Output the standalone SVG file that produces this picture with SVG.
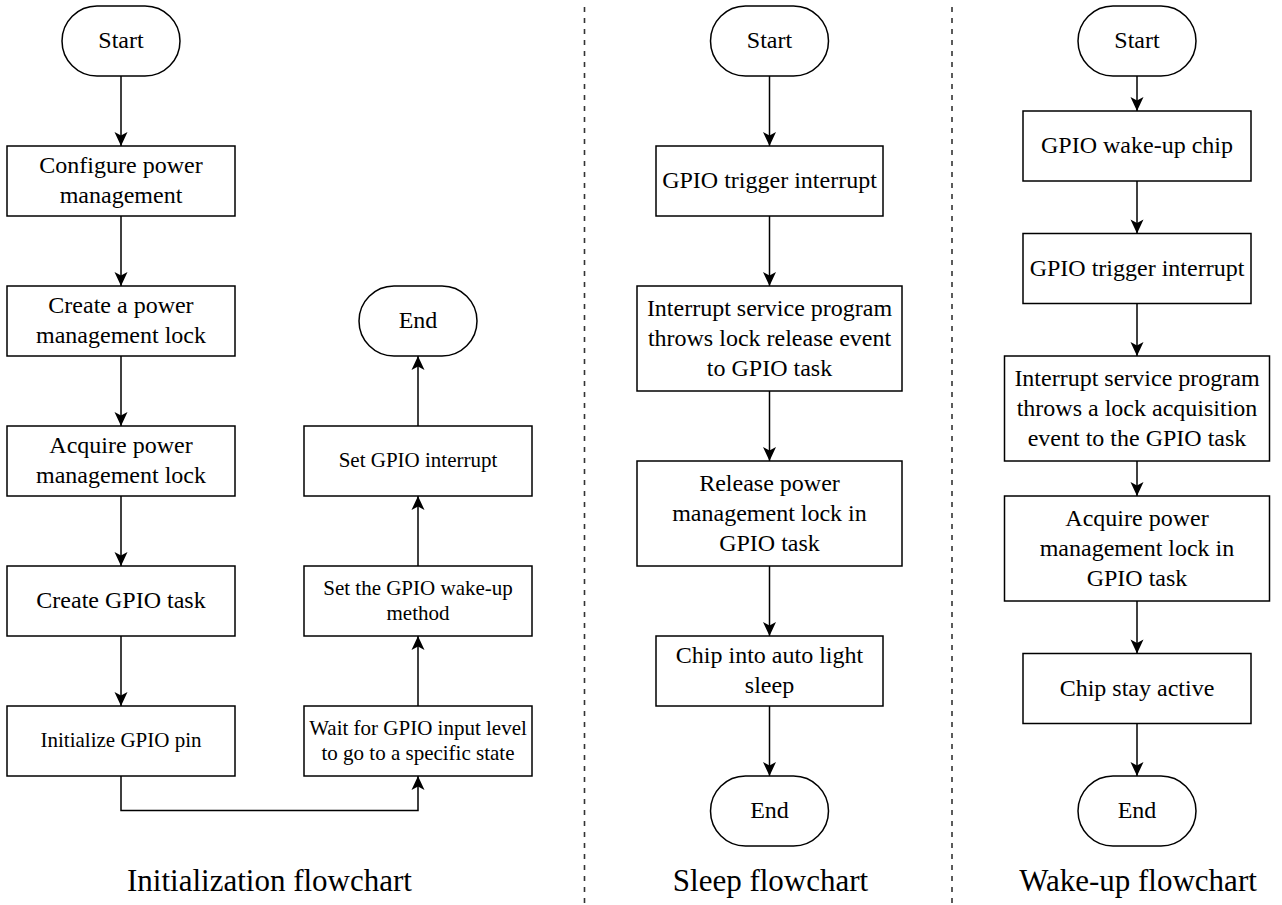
<svg xmlns="http://www.w3.org/2000/svg" width="1282" height="905" viewBox="0 0 1282 905">
<defs>
<style>
.box{fill:#fff;stroke:#000;stroke-width:1.5}
.t{font-family:"Liberation Serif","Times New Roman",serif;font-size:24px;fill:#000;text-anchor:middle}
.s{font-size:21px}
.title{font-family:"Liberation Serif","Times New Roman",serif;font-size:31px;fill:#000;text-anchor:middle}
.c{fill:none;stroke:#000;stroke-width:1.5}
.dash{stroke:#333;stroke-width:1.6;stroke-dasharray:5 6}
</style>
<marker id="arr" markerUnits="userSpaceOnUse" viewBox="0 0 16 14" refX="15" refY="7" markerWidth="16" markerHeight="14" orient="auto">
<path d="M15,7 L1,0.5 L4.5,7 L1,13.5 Z" fill="#000"/>
</marker>
</defs>
<rect width="1282" height="905" fill="#fff"/>
<g id="separators">
<line class="dash" x1="584.5" y1="7" x2="584.5" y2="905"/>
<line class="dash" x1="952" y1="7" x2="952" y2="905"/>
</g>
<g id="connectors">
<line class="c" x1="121" y1="76" x2="121" y2="146" marker-end="url(#arr)"/>
<line class="c" x1="121" y1="216" x2="121" y2="286" marker-end="url(#arr)"/>
<line class="c" x1="121" y1="356" x2="121" y2="426" marker-end="url(#arr)"/>
<line class="c" x1="121" y1="496" x2="121" y2="566" marker-end="url(#arr)"/>
<line class="c" x1="121" y1="636" x2="121" y2="706" marker-end="url(#arr)"/>
<polyline class="c" points="121,776 121,810.5 418,810.5 418,776" marker-end="url(#arr)"/>
<line class="c" x1="418" y1="706" x2="418" y2="636" marker-end="url(#arr)"/>
<line class="c" x1="418" y1="566" x2="418" y2="496" marker-end="url(#arr)"/>
<line class="c" x1="418" y1="426" x2="418" y2="356" marker-end="url(#arr)"/>
<line class="c" x1="769.5" y1="76" x2="769.5" y2="146" marker-end="url(#arr)"/>
<line class="c" x1="769.5" y1="216" x2="769.5" y2="286" marker-end="url(#arr)"/>
<line class="c" x1="769.5" y1="391" x2="769.5" y2="461" marker-end="url(#arr)"/>
<line class="c" x1="769.5" y1="566" x2="769.5" y2="636" marker-end="url(#arr)"/>
<line class="c" x1="769.5" y1="706" x2="769.5" y2="776" marker-end="url(#arr)"/>
<line class="c" x1="1137" y1="76" x2="1137" y2="111" marker-end="url(#arr)"/>
<line class="c" x1="1137" y1="181" x2="1137" y2="233.5" marker-end="url(#arr)"/>
<line class="c" x1="1137" y1="303.5" x2="1137" y2="356" marker-end="url(#arr)"/>
<line class="c" x1="1137" y1="461" x2="1137" y2="496" marker-end="url(#arr)"/>
<line class="c" x1="1137" y1="601" x2="1137" y2="653.5" marker-end="url(#arr)"/>
<line class="c" x1="1137" y1="723.5" x2="1137" y2="776" marker-end="url(#arr)"/>
</g>
<g id="init-start"><rect class="box" x="62" y="6" width="118" height="70" rx="35"/><text class="t" x="121" y="48">Start</text></g>
<g id="init-configure"><rect class="box" x="7" y="146" width="228" height="70"/><text class="t" x="121" y="173">Configure power</text><text class="t" x="121" y="203">management</text></g>
<g id="init-create-lock"><rect class="box" x="7" y="286" width="228" height="70"/><text class="t" x="121" y="313">Create a power</text><text class="t" x="121" y="343">management lock</text></g>
<g id="init-acquire"><rect class="box" x="7" y="426" width="228" height="70"/><text class="t" x="121" y="453">Acquire power</text><text class="t" x="121" y="483">management lock</text></g>
<g id="init-create-task"><rect class="box" x="7" y="566" width="228" height="70"/><text class="t" x="121" y="608">Create GPIO task</text></g>
<g id="init-pin"><rect class="box" x="7" y="706" width="228" height="70"/><text class="t s" x="121" y="747">Initialize GPIO pin</text></g>
<g id="init-wait"><rect class="box" x="304" y="706" width="228" height="70"/><text class="t s" x="418" y="735">Wait for GPIO input level</text><text class="t s" x="418" y="760">to go to a specific state</text></g>
<g id="init-wake-method"><rect class="box" x="304" y="566" width="228" height="70"/><text class="t s" x="418" y="595">Set the GPIO wake-up</text><text class="t s" x="418" y="620">method</text></g>
<g id="init-interrupt"><rect class="box" x="304" y="426" width="228" height="70"/><text class="t s" x="418" y="467">Set GPIO interrupt</text></g>
<g id="init-end"><rect class="box" x="359" y="286" width="118" height="70" rx="35"/><text class="t" x="418" y="328">End</text></g>

<g id="sleep-start"><rect class="box" x="710.5" y="6" width="118" height="70" rx="35"/><text class="t" x="769.5" y="48">Start</text></g>
<g id="sleep-trigger"><rect class="box" x="656" y="146" width="227" height="70"/><text class="t" x="769.5" y="188">GPIO trigger interrupt</text></g>
<g id="sleep-isr"><rect class="box" x="637" y="286" width="265" height="105"/><text class="t" x="769.5" y="315.5">Interrupt service program</text><text class="t" x="769.5" y="345.5">throws lock release event</text><text class="t" x="769.5" y="375.5">to GPIO task</text></g>
<g id="sleep-release"><rect class="box" x="637" y="461" width="265" height="105"/><text class="t" x="769.5" y="490.5">Release power</text><text class="t" x="769.5" y="520.5">management lock in</text><text class="t" x="769.5" y="550.5">GPIO task</text></g>
<g id="sleep-chip"><rect class="box" x="656" y="636" width="227" height="70"/><text class="t" x="769.5" y="663">Chip into auto light</text><text class="t" x="769.5" y="693">sleep</text></g>
<g id="sleep-end"><rect class="box" x="710.5" y="776" width="118" height="70" rx="35"/><text class="t" x="769.5" y="818">End</text></g>

<g id="wake-start"><rect class="box" x="1078" y="6" width="118" height="70" rx="35"/><text class="t" x="1137" y="48">Start</text></g>
<g id="wake-chip"><rect class="box" x="1023" y="111" width="228" height="70"/><text class="t" x="1137" y="153">GPIO wake-up chip</text></g>
<g id="wake-trigger"><rect class="box" x="1023" y="233.5" width="228" height="70"/><text class="t" x="1137" y="275.5">GPIO trigger interrupt</text></g>
<g id="wake-isr"><rect class="box" x="1004.5" y="356" width="265" height="105"/><text class="t" x="1137" y="385.5">Interrupt service program</text><text class="t" x="1137" y="415.5">throws a lock acquisition</text><text class="t" x="1137" y="445.5">event to the GPIO task</text></g>
<g id="wake-acquire"><rect class="box" x="1004.5" y="496" width="265" height="105"/><text class="t" x="1137" y="525.5">Acquire power</text><text class="t" x="1137" y="555.5">management lock in</text><text class="t" x="1137" y="585.5">GPIO task</text></g>
<g id="wake-active"><rect class="box" x="1023" y="653.5" width="228" height="70"/><text class="t" x="1137" y="695.5">Chip stay active</text></g>
<g id="wake-end"><rect class="box" x="1078" y="776" width="118" height="70" rx="35"/><text class="t" x="1137" y="818">End</text></g>

<g id="titles">
<text class="title" x="269.5" y="891">Initialization flowchart</text>
<text class="title" x="770.5" y="891">Sleep flowchart</text>
<text class="title" x="1138" y="891">Wake-up flowchart</text>
</g>
</svg>
